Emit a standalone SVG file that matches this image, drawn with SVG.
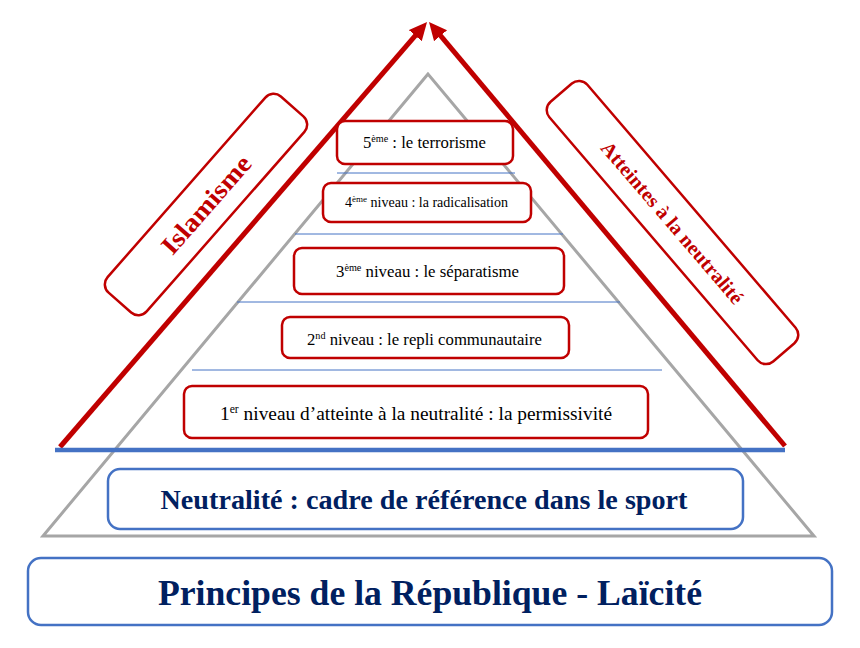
<svg xmlns="http://www.w3.org/2000/svg" width="860" height="648" viewBox="0 0 860 648">
<style>
.tri{fill:none;stroke:#A6A6A6;stroke-width:3;stroke-linejoin:miter}
.sep{stroke:#4472C4;stroke-width:1}
.arrow{stroke:#C00000;stroke-width:5;fill:none}
.base{stroke:#4472C4;stroke-width:4.5}
.rbox{fill:#fff;stroke:#C00000;stroke-width:2.5}
.bbox{fill:#fff;stroke:#4472C4;stroke-width:2.5}
.lvl{font-family:"Liberation Serif","Times New Roman",serif;fill:#000;text-anchor:middle}
.side{font-family:"Liberation Serif","Times New Roman",serif;font-weight:bold;fill:#C00000;text-anchor:middle}
.found{font-family:"Liberation Serif","Times New Roman",serif;font-weight:bold;fill:#002060;text-anchor:middle}
</style>
<defs>
<marker id="ah" markerUnits="userSpaceOnUse" markerWidth="20" markerHeight="18" refX="4" refY="8.5" orient="auto">
<path d="M0,0 L18,8.5 L0,17 z" fill="#C00000"/>
</marker>
</defs>
<rect width="860" height="648" fill="#fff"/>
<g id="pyramid">
<polygon class="tri" points="428,74 43,536 814,536"/>
</g>
<g id="connectors">
<line class="sep" x1="337" y1="173" x2="515" y2="173"/>
<line class="sep" x1="295" y1="234" x2="563" y2="234"/>
<line class="sep" x1="237" y1="302" x2="620" y2="302"/>
<line class="sep" x1="192" y1="370" x2="662" y2="370"/>
<line class="arrow" x1="60" y1="447" x2="417.9" y2="32.6" marker-end="url(#ah)"/>
<line class="arrow" x1="785" y1="446" x2="438" y2="32.7" marker-end="url(#ah)"/>
<line class="base" x1="55" y1="450" x2="785" y2="450"/>
</g>
<g id="niveau5">
<rect class="rbox" x="337" y="121" width="176" height="43" rx="8"/>
<text class="lvl" x="424.5" y="148" font-size="16.5" textLength="123" lengthAdjust="spacingAndGlyphs">5<tspan font-size="10" dy="-6">ème</tspan><tspan dy="6"> : le terrorisme</tspan></text>
</g>
<g id="niveau4">
<rect class="rbox" x="323" y="183" width="208" height="39" rx="8"/>
<text class="lvl" x="426.5" y="207" font-size="14" textLength="163" lengthAdjust="spacingAndGlyphs">4<tspan font-size="9" dy="-5">ème</tspan><tspan dy="5"> niveau : la radicalisation</tspan></text>
</g>
<g id="niveau3">
<rect class="rbox" x="294" y="248" width="270" height="46" rx="8"/>
<text class="lvl" x="427.5" y="277" font-size="16.5" textLength="183" lengthAdjust="spacingAndGlyphs">3<tspan font-size="10" dy="-6">ème</tspan><tspan dy="6"> niveau : le séparatisme</tspan></text>
</g>
<g id="niveau2">
<rect class="rbox" x="282" y="317" width="287" height="41" rx="8"/>
<text class="lvl" x="424.5" y="345" font-size="16.5" textLength="235" lengthAdjust="spacingAndGlyphs">2<tspan font-size="10" dy="-6">nd</tspan><tspan dy="6"> niveau : le repli communautaire</tspan></text>
</g>
<g id="niveau1">
<rect class="rbox" x="184" y="386" width="464" height="52" rx="8"/>
<text class="lvl" x="416" y="420" font-size="19" textLength="392" lengthAdjust="spacingAndGlyphs">1<tspan font-size="11.5" dy="-7">er</tspan><tspan dy="7"> niveau d’atteinte à la neutralité :  la permissivité</tspan></text>
</g>
<g id="islamisme" transform="translate(206 204.5) rotate(-48.7)">
<rect class="rbox" x="-130.5" y="-26" width="261" height="52" rx="11"/>
<text class="side" x="0" y="9" font-size="26" textLength="122" lengthAdjust="spacingAndGlyphs">Islamisme</text>
</g>
<g id="atteintes" transform="translate(672.5 222.5) rotate(49.4)">
<rect class="rbox" x="-171" y="-25" width="342" height="50" rx="11"/>
<text class="side" x="0" y="7" font-size="20" textLength="207" lengthAdjust="spacingAndGlyphs">Atteintes à la neutralité</text>
</g>
<g id="neutralite">
<rect class="bbox" x="108" y="469" width="635" height="60" rx="12"/>
<text class="found" x="424" y="509" font-size="27" textLength="527" lengthAdjust="spacingAndGlyphs">Neutralité : cadre de référence dans le sport</text>
</g>
<g id="principes">
<rect class="bbox" x="28" y="558" width="804" height="67" rx="13"/>
<text class="found" x="430" y="605" font-size="35" textLength="544" lengthAdjust="spacingAndGlyphs">Principes de la République - Laïcité</text>
</g>
</svg>
